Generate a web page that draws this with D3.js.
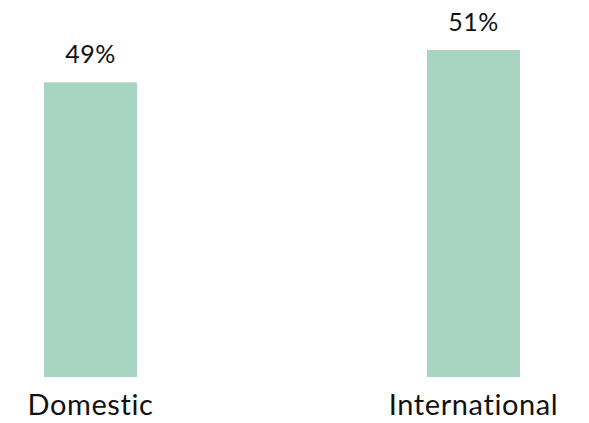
<!DOCTYPE html>
<html><head><meta charset="utf-8">
<script src="https://cdn.jsdelivr.net/npm/d3@7"></script>
<style>body{margin:0;background:#fff}svg{display:block}</style>
</head><body>
<script>
const categories = ["Domestic", "International"];
const values = [49, 51];
const valueLabels = ["49%", "51%"];

const W = 589, H = 423;
const svg = d3.select("body").append("svg").attr("width", W).attr("height", H);
const font = "Lato, 'Open Sans', sans-serif";

const x = d3.scaleBand().domain(categories).range([5.7, 558.3]).paddingInner(0.757).paddingOuter(0.1);
const base = 30.8;
const y = d3.scaleLinear().domain([base, 51]).range([377, 50]);

svg.selectAll("rect.bar").data(categories).join("rect")
  .attr("class", "bar")
  .attr("x", d => x(d)).attr("width", x.bandwidth())
  .attr("y", (d, i) => y(values[i])).attr("height", (d, i) => y(base) - y(values[i]))
  .attr("fill", "#a8d5c2");

svg.selectAll("text.val").data(categories).join("text")
  .attr("class", "val")
  .attr("x", d => x(d) + x.bandwidth() / 2)
  .attr("y", (d, i) => y(values[i]) - 19)
  .attr("text-anchor", "middle")
  .attr("font-family", font).attr("font-size", 25)
  .attr("letter-spacing", 0.5)
  .attr("fill", "#111")
  .text((d, i) => valueLabels[i]);

const xAxis = svg.append("g").attr("transform", `translate(0,${y(base)})`)
  .call(d3.axisBottom(x).tickSize(0).tickPadding(17));
xAxis.select(".domain").remove();
xAxis.selectAll("text").attr("font-family", font).attr("font-size", 29)
  .attr("letter-spacing", 0.6).attr("fill", "#111");
</script>
</body></html>
